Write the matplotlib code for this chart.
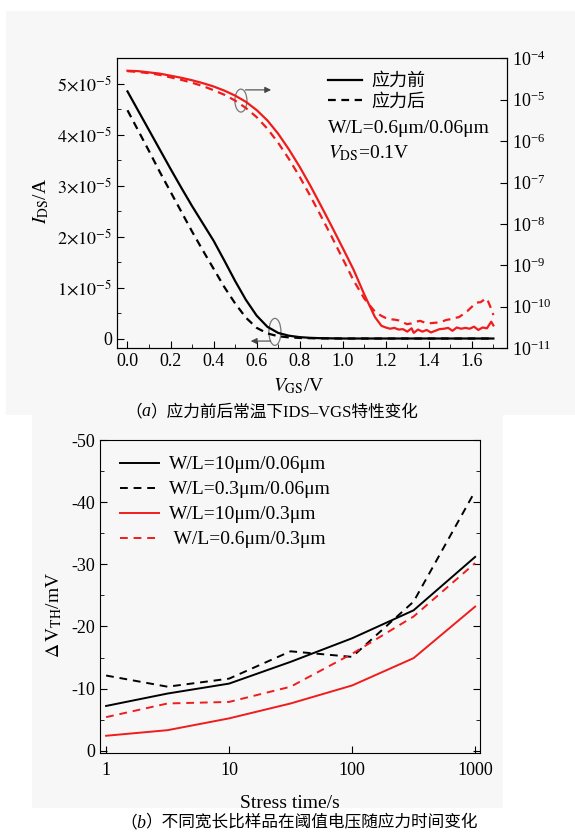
import numpy as np
import matplotlib
matplotlib.use("Agg")
import matplotlib.pyplot as plt
from matplotlib.patches import Ellipse, Rectangle
from matplotlib.ticker import FuncFormatter, MultipleLocator, FixedLocator, NullLocator

plt.rcParams["font.family"] = ["Liberation Serif", "Noto Sans CJK SC"]
plt.rcParams["mathtext.fontset"] = "stix"
plt.rcParams["axes.unicode_minus"] = False

RED = "#f01c1c"
CJK = ["Noto Sans CJK SC", "Liberation Serif"]
SERIF_CJK = ["Liberation Serif", "Noto Sans CJK SC"]

# ---- (a) IDS-VGS, linear (black, left axis, units of 1e-5 A) ----
vgs_lin = [0.00, 0.05, 0.10, 0.15, 0.20, 0.25, 0.30, 0.35, 0.40, 0.45, 0.50,
           0.55, 0.60, 0.65, 0.70, 0.75, 0.80, 0.85, 0.90, 1.00, 1.20, 1.40, 1.70]
ids_before = [4.85, 4.47, 4.09, 3.71, 3.33, 2.96, 2.60, 2.26, 1.92, 1.53, 1.13,
              0.76, 0.45, 0.23, 0.11, 0.055, 0.027, 0.013, 0.006, 0.0, 0.0, 0.0, 0.0]
ids_after = [4.48, 4.08, 3.68, 3.27, 2.88, 2.49, 2.10, 1.73, 1.37, 1.01, 0.69,
             0.41, 0.21, 0.10, 0.045, 0.022, 0.011, 0.006, 0.003, 0.0, 0.0, 0.0, 0.0]

# ---- (a) IDS-VGS, log (red, right axis, log10 of A) ----
vgs_log_before = [0.00, 0.05, 0.10, 0.15, 0.20, 0.25, 0.30, 0.35, 0.40, 0.45, 0.50,
                  0.55, 0.60, 0.65, 0.70, 0.75, 0.80, 0.85, 0.90, 0.95, 1.00, 1.05,
                  1.10, 1.15, 1.18, 1.20, 1.22, 1.24, 1.26, 1.28, 1.30, 1.32, 1.33,
                  1.35, 1.37, 1.39, 1.41, 1.43, 1.45, 1.47, 1.49, 1.51, 1.53, 1.55,
                  1.57, 1.59, 1.61, 1.63, 1.65, 1.67, 1.69, 1.70]
log_before = [-4.30, -4.31, -4.34, -4.37, -4.42, -4.47, -4.53, -4.60, -4.68, -4.78, -4.90,
              -5.05, -5.25, -5.50, -5.82, -6.20, -6.62, -7.08, -7.57, -8.07, -8.58, -9.10,
              -9.70, -10.25, -10.46, -10.50, -10.53, -10.51, -10.55, -10.54, -10.60, -10.52, -10.63,
              -10.55, -10.60, -10.56, -10.62, -10.58, -10.54, -10.53, -10.51, -10.58, -10.50, -10.53,
              -10.51, -10.53, -10.48, -10.56, -10.50, -10.52, -10.36, -10.45]
vgs_log_after = [0.00, 0.05, 0.10, 0.15, 0.20, 0.25, 0.30, 0.35, 0.40, 0.45, 0.50,
                 0.55, 0.60, 0.65, 0.70, 0.75, 0.80, 0.85, 0.90, 0.95, 1.00, 1.05,
                 1.10, 1.15, 1.18, 1.20, 1.22, 1.24, 1.26, 1.28, 1.30, 1.32, 1.34,
                 1.36, 1.38, 1.40, 1.42, 1.44, 1.46, 1.48, 1.50, 1.52, 1.54, 1.56,
                 1.58, 1.60, 1.62, 1.64, 1.66, 1.67, 1.69, 1.70]
log_after = [-4.31, -4.33, -4.36, -4.40, -4.46, -4.52, -4.59, -4.67, -4.77, -4.88, -5.02,
             -5.20, -5.42, -5.70, -6.04, -6.43, -6.86, -7.33, -7.82, -8.32, -8.84, -9.36,
             -9.80, -10.12, -10.22, -10.27, -10.30, -10.31, -10.33, -10.38, -10.42, -10.40, -10.36,
             -10.34, -10.38, -10.40, -10.39, -10.38, -10.36, -10.32, -10.30, -10.27, -10.25, -10.18,
             -10.10, -10.00, -9.90, -9.89, -9.82, -9.80, -10.05, -10.20]

# ---- (b) threshold voltage shift vs stress time ----
stress_time = [1, 3.16, 10, 31.6, 100, 316, 1000]
dvth_10_006 = [-7.2, -9.2, -10.8, -14.3, -18.1, -22.6, -31.2]
dvth_03_006 = [-12.1, -10.3, -11.6, -16.0, -15.1, -24.0, -41.8]
dvth_10_03 = [-2.4, -3.3, -5.2, -7.6, -10.5, -14.9, -23.2]
dvth_06_03 = [-5.4, -7.6, -7.85, -10.3, -15.6, -21.6, -30.2]
labels_b = ["W/L=10μm/0.06μm", "W/L=0.3μm/0.06μm", "W/L=10μm/0.3μm", " W/L=0.6μm/0.3μm"]
time_ticks = [1, 10, 100, 1000]
time_tick_labels = ["1", "10", "100", "1000"]

fig = plt.figure(figsize=(5.75, 8.33), dpi=100)
fig.patches.append(Rectangle((0.0104, 0.502), 0.99, 0.485, transform=fig.transFigure,
                             facecolor="#f7f7f7", edgecolor="none", zorder=-10))
fig.patches.append(Rectangle((0.0557, 0.030), 0.819, 0.472, transform=fig.transFigure,
                             facecolor="#f7f7f7", edgecolor="none", zorder=-10))

# ================= panel (a) =================
ax = fig.add_axes([0.203, 0.582, 0.679, 0.348])
ax.set_facecolor("none")
ax.plot(vgs_lin, ids_before, color="black", lw=1.6)
ax.plot(vgs_lin, ids_after, color="black", lw=1.6, dashes=(3.5, 2.5))
ax.set_xlim(-0.05, 1.764)
ax.set_ylim(-0.19, 5.5)
ax.xaxis.set_major_locator(MultipleLocator(0.2))
ax.xaxis.set_minor_locator(MultipleLocator(0.1))
ax.xaxis.set_major_formatter(FuncFormatter(lambda v, p: f"{v:.1f}"))
ax.yaxis.set_major_locator(MultipleLocator(1))
ax.yaxis.set_minor_locator(MultipleLocator(0.5))
ax.yaxis.set_major_formatter(FuncFormatter(
    lambda v, p: "0" if abs(v) < 1e-9 else r"$%d{\times}10^{-5}$" % round(v)))
ax.tick_params(which="both", direction="in", labelsize=13, top=False, right=False)
ax.tick_params(which="major", length=5)
ax.tick_params(which="minor", length=3)
ax.set_xlabel(r"$V_{\rm GS}$/V", fontsize=14)
ax.xaxis.set_label_coords(0.465, -0.098)
ax.set_ylabel(r"$I_{\rm DS}$/A", fontsize=14)
ax.yaxis.set_label_coords(-0.168, 0.51)

ax2 = ax.twinx()
ax2.plot(vgs_log_before, np.power(10.0, log_before), color=RED, lw=1.6)
ax2.plot(vgs_log_after, np.power(10.0, log_after), color=RED, lw=1.6, dashes=(3.5, 2.5))
ax2.set_yscale("log")
ax2.set_ylim(1e-11, 1e-4)
ax2.yaxis.set_major_locator(FixedLocator([10.0 ** k for k in range(-11, -3)]))
ax2.yaxis.set_minor_locator(NullLocator())
ax2.tick_params(which="both", direction="in", labelsize=13, length=5)

# markers pointing each group to its axis
ax.add_patch(Ellipse((0.527, 4.67), 0.056, 0.45, fill=False, edgecolor="#777777", lw=0.9))
ax.annotate("", xy=(0.68, 4.88), xytext=(0.535, 4.88),
            arrowprops=dict(arrowstyle="-|>", color="#444444", lw=0.8, mutation_scale=9))
ax.add_patch(Ellipse((0.685, 0.13), 0.056, 0.53, fill=False, edgecolor="#777777", lw=0.9))
ax.annotate("", xy=(0.56, -0.05), xytext=(0.677, -0.05),
            arrowprops=dict(arrowstyle="-|>", color="#444444", lw=0.8, mutation_scale=9))

h1, = ax.plot([], [], color="black", lw=1.6)
h2, = ax.plot([], [], color="black", lw=1.6, dashes=(3.5, 2.5))
ax.legend([h1, h2], ["应力前", "应力后"], loc="upper left", bbox_to_anchor=(0.54, 0.952),
          frameon=False, borderpad=0, borderaxespad=0, handlelength=1.9,
          handletextpad=0.5, labelspacing=0.12, prop={"family": CJK, "size": 13})
ax.text(0.541, 0.759, "W/L=0.6μm/0.06μm", transform=ax.transAxes, fontsize=14, va="center")
ax.text(0.541, 0.672, r"$V_{\rm DS}$=0.1V", transform=ax.transAxes, fontsize=14, va="center")

# ================= panel (b) =================
bx = fig.add_axes([0.174, 0.0966, 0.661, 0.375])
bx.set_facecolor("none")
bx.plot(stress_time, dvth_10_006, color="black", lw=1.4, label=labels_b[0])
bx.plot(stress_time, dvth_03_006, color="black", lw=1.4, dashes=(4, 3), label=labels_b[1])
bx.plot(stress_time, dvth_10_03, color=RED, lw=1.4, label=labels_b[2])
bx.plot(stress_time, dvth_06_03, color=RED, lw=1.4, dashes=(4, 3), label=labels_b[3])
bx.set_xscale("log")
bx.set_xlim(0.893, 1098)
bx.set_ylim(0.3, -50)
bx.set_xticks(time_ticks, time_tick_labels)
bx.xaxis.set_minor_locator(NullLocator())
bx.yaxis.set_major_locator(MultipleLocator(10))
bx.yaxis.set_minor_locator(MultipleLocator(5))
bx.yaxis.set_major_formatter(FuncFormatter(lambda v, p: f"{v:.0f}"))
bx.tick_params(which="both", direction="in", labelsize=13, right=True, top=False)
bx.tick_params(which="major", length=5)
bx.tick_params(which="minor", length=3)
bx.tick_params(axis="x", pad=7)
bx.set_xlabel("Stress time/s", fontsize=14)
bx.xaxis.set_label_coords(0.5, -0.135)
bx.set_ylabel(r"$\Delta\,{\rm V}_{\rm TH}$/mV", fontsize=14)
bx.yaxis.set_label_coords(-0.095, 0.44)
bx.legend(loc="upper left", bbox_to_anchor=(0.053, 0.95), frameon=False, borderpad=0,
          borderaxespad=0, handlelength=2.0, handletextpad=0.5, labelspacing=0.38,
          prop={"size": 14})

# ================= captions =================
renderer = fig.canvas.get_renderer()


def caption(x, y, letter, rest):
    t1 = fig.text(x, y, "（", family=CJK, fontsize=12, va="center", ha="left")
    bb = t1.get_window_extent(renderer).transformed(fig.transFigure.inverted())
    t2 = fig.text(bb.x1, y, letter, fontsize=13, style="italic", va="center", ha="left")
    bb = t2.get_window_extent(renderer).transformed(fig.transFigure.inverted())
    fig.text(bb.x1, y, "）" + rest, family=SERIF_CJK, fontsize=12, va="center", ha="left")


caption(125 / 575, 1 - 412 / 833, "a", "应力前后常温下IDS–VGS特性变化")
caption(120 / 575, 1 - 823 / 833, "b", "不同宽长比样品在阈值电压随应力时间变化")

fig.savefig("out.png", dpi=100)
